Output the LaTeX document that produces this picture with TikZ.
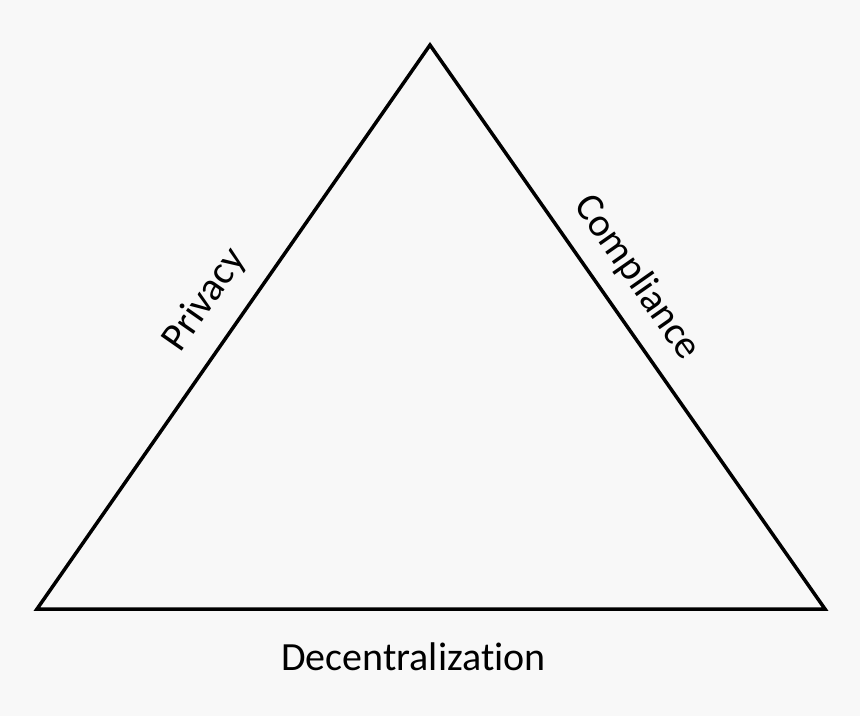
\documentclass[tikz,border=0pt]{standalone}
\usepackage{fontspec}
\setmainfont[Ligatures=NoCommon]{Carlito}
\definecolor{bg}{HTML}{F8F8F8}
\tikzset{
  edge/.style={line width=3.5pt, line join=miter, draw=black},
  lbl/.style={font=\fontsize{40}{48}\selectfont, inner sep=0pt, text=black}
}
\begin{document}
\begin{tikzpicture}[x=1pt,y=1pt]
\fill[bg] (0,0) rectangle (860,716);
\useasboundingbox (0,0) rectangle (860,716);
\coordinate (top) at (430,671);
\coordinate (bl) at (37,107);
\coordinate (br) at (825,107);
\draw[edge] (top) -- (br) -- (bl) -- cycle;
\node[lbl, rotate=55.1] (privacy) at (205,416) {Privacy};
\node[lbl, rotate=-55] (compliance) at (637,438) {Compliance};
\node[lbl, anchor=base] (decent) at (413.5,46) {Decentralization};
\end{tikzpicture}
\end{document}
